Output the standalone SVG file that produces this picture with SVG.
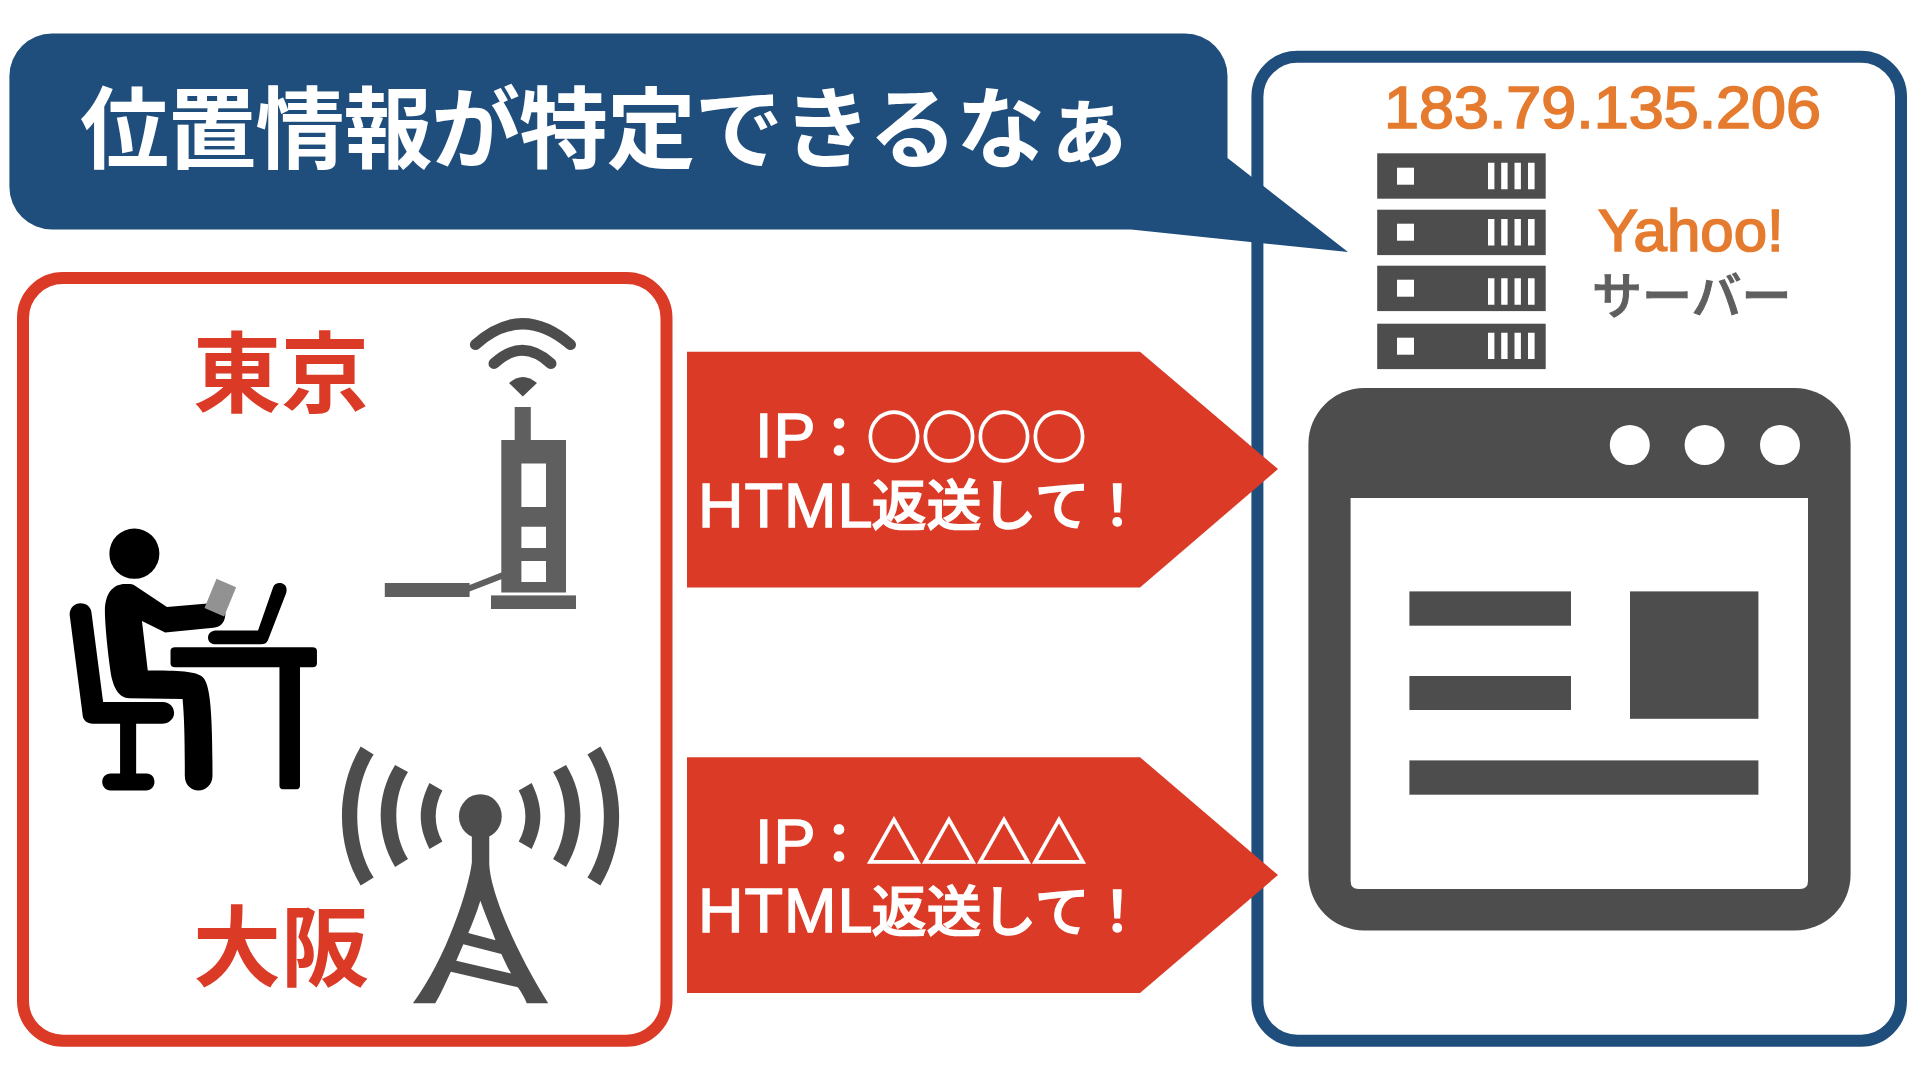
<svg xmlns="http://www.w3.org/2000/svg" width="1920" height="1080" viewBox="0 0 1920 1080">
<style>
text{font-family:"Noto Sans CJK JP","Noto Sans",sans-serif}
.frame{fill:#fff;stroke-width:12}
.red{fill:#DA3A26}.blue{fill:#1F4E7D}.g4{fill:#4D4D4D}.g5{fill:#5F5F5F}.w{fill:#fff}
.city{font-size:88px;font-weight:700;fill:#DA3A26}
.req{fill:#fff;stroke:#fff;stroke-width:1.4}
.lat{font-family:"Liberation Sans",Arial,sans-serif;font-size:63px;letter-spacing:1px}
.cjk{font-size:55px;font-weight:500;letter-spacing:0}
.or{font-family:"Liberation Sans",Arial,sans-serif;fill:#E57B2F;stroke:#E57B2F;stroke-width:1.7}
</style>
<rect width="1920" height="1080" fill="#fff"/>
<g id="tokyo-osaka-frame"><rect class="frame" x="23" y="278" width="643.5" height="762.7" rx="40" stroke="#DA3A26"/></g>
<g id="server-frame"><rect class="frame" x="1257.4" y="56.7" width="643.6" height="984" rx="40" stroke="#1F4E7D"/></g>
<g id="callout">
<path class="blue" d="M52 33.6H1185A42.5 42.5 0 0 1 1227.5 76V158L1348 252L1131 229.6H52A42.6 42.6 0 0 1 9.4 187V76A42.6 42.6 0 0 1 52 33.6Z"/>
<text x="80" y="160.5" font-size="89" font-weight="700" fill="#fff" textLength="1053">位置情報が特定できるなぁ</text>
</g>
<g id="tokyo-label"><text class="city" x="193" y="405">東京</text></g>
<g id="router">
<path d="M475.4 344.6Q522 303 570.5 344.6M494 363.6Q522.3 337 551 363.6" fill="none" stroke="#4D4D4D" stroke-width="11" stroke-linecap="round"/>
<path class="g4" d="M509 383Q522.8 371 537 383L522.8 396.4Z"/>
<path class="g5" fill-rule="evenodd" d="M514.7 407H530.8V440H566V592.5H501.3V579.2L469.6 591.4V597H384.8V582.9H469.6V585L501.3 572.5V440H514.7ZM521.4 463.6V507H546V463.6ZM521.4 526.7V548H546V526.7ZM521.4 561V582H546V561Z"/>
<rect class="g5" x="491" y="595.4" width="85" height="13.6"/>
</g>
<g id="person" transform="translate(0 500) scale(.4464 .37)">
<ellipse cx="301" cy="145" rx="56" ry="68"/>
<path d="M300 230L374 289L465 280L505 305C505 330 495 345 478 345L370 358L318 327L331 461C400 461 440 462 455 480C470 500 476 560 476 745C476 770 460 785 445 785C428 785 414 770 414 745C414 650 413 590 409 538L290 536C265 536 255 505 250 480C243 430 235 340 235 300C235 250 255 227 280 227C290 227 295 226 300 230Z"/>
<path d="M156 310C156 290 168 279 180 279C195 279 204 290 205 305L231 546H365C380 546 390 560 390 576C390 592 378 605 363 605H305V739H328C340 739 346 750 346 762C346 775 338 785 328 785H248C236 785 229 773 229 762C229 750 236 739 248 739H269V605H208C195 605 185 595 185 580Z"/>
<path d="M612 235C615 224 630 220 638 230C643 237 643 245 640 255L600 380C597 388 592 390 585 390H485C472 390 466 382 466 372C466 360 475 353 485 353H578Z"/>
<path d="M392 398H700Q710 398 710 408V442Q710 452 700 452H672V772Q672 782 662 782H636Q626 782 626 772V452H392Q382 452 382 442V408Q382 398 392 398Z"/>
<polygon points="485,213 529,236 502,315 458,292" fill="#929292"/>
</g>
<g id="antenna" class="g4" transform="translate(0 500) scale(.4464 .37)">
<ellipse cx="1076" cy="855" rx="48" ry="60"/>
<path fill-rule="evenodd" d="M1057 890V980C1050 1050 1000 1240 925 1360H975C990 1330 1000 1300 1010 1275L1160 1317C1168 1330 1175 1345 1180 1360H1228C1150 1210 1096 1050 1096 980V890ZM1076 1083C1068 1115 1058 1145 1049 1170L1110 1190C1098 1150 1085 1115 1076 1083ZM1038 1201L1022 1245L1145 1280C1136 1262 1130 1245 1123 1227Z"/>
<g id="waves">
<path d="M962 765L991 785C971 830 971 880 991 923L962 943C936 880 936 830 962 765ZM885 716L914 735C879 800 879 905 914 970L885 992C842 905 842 800 885 716ZM808 666L837 688C788 780 788 930 837 1020L808 1042C752 930 752 780 808 666Z"/>
<path transform="translate(2153 0) scale(-1 1)" d="M962 765L991 785C971 830 971 880 991 923L962 943C936 880 936 830 962 765ZM885 716L914 735C879 800 879 905 914 970L885 992C842 905 842 800 885 716ZM808 666L837 688C788 780 788 930 837 1020L808 1042C752 930 752 780 808 666Z"/>
</g>
</g>
<g id="osaka-label"><text class="city" x="193" y="979">大阪</text></g>
<g id="connectors">
<g id="request-tokyo">
<path class="red" d="M687 351.7H1140L1278 469L1140 587.6H687Z"/>
<text class="req"><tspan class="lat" x="755" y="457">IP</tspan><tspan class="cjk" x="811.5" y="457">：○○○○</tspan><tspan class="lat" x="698" y="526.5">HTML</tspan><tspan class="cjk" x="871.5" y="525">返送して！</tspan></text>
</g>
<g id="request-osaka">
<path class="red" d="M687 757.2H1140L1278 875L1140 993H687Z"/>
<text class="req"><tspan class="lat" x="755" y="862.5">IP</tspan><tspan class="cjk" x="811.5" y="862.5">：△△△△</tspan><tspan class="lat" x="698" y="932">HTML</tspan><tspan class="cjk" x="871.5" y="930.5">返送して！</tspan></text>
</g>
</g>
<g id="server-labels">
<text class="or" x="1384" y="128" font-size="59" textLength="437" lengthAdjust="spacingAndGlyphs">183.79.135.206</text>
<text><tspan class="or" x="1598" y="251" font-size="60">Yahoo!</tspan><tspan x="1592" y="314" font-size="50" font-weight="500" fill="#5F5F5F" stroke="#5F5F5F" stroke-width="1">サーバー</tspan></text>
</g>
<g id="server-rack" class="g4">
<rect x="1377.2" y="153.3" width="168.5" height="45.4"/><rect x="1377.2" y="209.7" width="168.5" height="45.4"/><rect x="1377.2" y="265.7" width="168.5" height="45.4"/><rect x="1377.2" y="323.7" width="168.5" height="45.4"/>
<g class="w">
<rect x="1397" y="167.7" width="17" height="17"/><rect x="1397" y="223.7" width="17" height="17"/><rect x="1397" y="279.7" width="17" height="17"/><rect x="1397" y="337.7" width="17" height="17"/>
<path d="M1488 162.7h6.4v26.6h-6.4zM1501.2 162.7h6.4v26.6h-6.4zM1514.5 162.7h6.4v26.6h-6.4zM1528 162.7h6.6v26.6h-6.6z"/>
<path d="M1488 219h6.4v26.4h-6.4zM1501.2 219h6.4v26.4h-6.4zM1514.5 219h6.4v26.4h-6.4zM1528 219h6.6v26.4h-6.6z"/>
<path d="M1488 278.3h6.4v26.4h-6.4zM1501.2 278.3h6.4v26.4h-6.4zM1514.5 278.3h6.4v26.4h-6.4zM1528 278.3h6.6v26.4h-6.6z"/>
<path d="M1488 332.7h6.4v26.4h-6.4zM1501.2 332.7h6.4v26.4h-6.4zM1514.5 332.7h6.4v26.4h-6.4zM1528 332.7h6.6v26.4h-6.6z"/>
</g>
</g>
<g id="browser">
<rect class="g4" x="1308.4" y="388" width="542.2" height="542.6" rx="56"/>
<g class="w">
<path d="M1350.6 498H1808V881Q1808 889 1800 889H1358.6Q1350.6 889 1350.6 881Z"/>
<circle cx="1629.8" cy="445" r="20"/><circle cx="1704.6" cy="445" r="20"/><circle cx="1780" cy="445" r="20"/>
</g>
<g class="g4">
<rect x="1409.4" y="591.4" width="161.6" height="34.3"/><rect x="1409.4" y="676" width="161.6" height="34"/><rect x="1409.4" y="760.4" width="349" height="34.3"/><rect x="1630" y="591.4" width="128.4" height="127.4"/>
</g>
</g>
</svg>
